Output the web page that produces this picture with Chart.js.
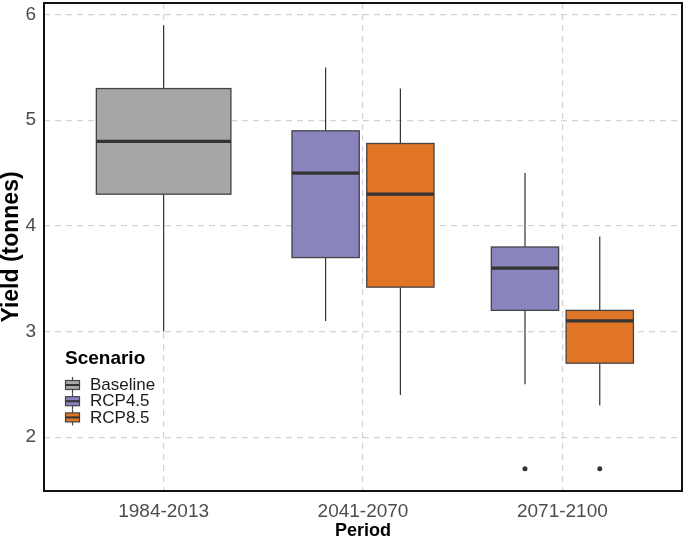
<!DOCTYPE html>
<html>
<head>
<meta charset="utf-8">
<script src="https://cdn.jsdelivr.net/npm/chart.js@4.4.0/dist/chart.umd.min.js"></script>
<style>
  html, body { margin: 0; padding: 0; background: #fff; }
  #wrap { width: 685px; height: 541px; }
</style>
</head>
<body>
<div id="wrap"><canvas id="myChart" width="685" height="541"></canvas></div>
<script>
const periods = ["1984-2013", "2041-2070", "2071-2100"];
const scenarios = ["Baseline", "RCP4.5", "RCP8.5"];
const colors = ["#A6A6A6", "#8983BE", "#E07526"];

// [lower whisker, q1, median, q3, upper whisker] per period
const baselineStats = [[3.0, 4.3, 4.8, 5.3, 5.9], null, null];
const rcp45Stats = [null, [3.1, 3.7, 4.5, 4.9, 5.5], [2.5, 3.2, 3.6, 3.8, 4.5]];
const rcp85Stats = [null, [2.4, 3.42, 4.3, 4.78, 5.3], [2.3, 2.7, 3.1, 3.2, 3.9]];

const baselineOutliers = [[], [], []];
const rcp45Outliers = [[], [], [1.7]];
const rcp85Outliers = [[], [], [1.7]];

const yTicks = [2, 3, 4, 5, 6];

const allStats = [baselineStats, rcp45Stats, rcp85Stats];
const allOutliers = [baselineOutliers, rcp45Outliers, rcp85Outliers];

const dodgeWidth = 0.75;

// ggplot-like dodge: only scenarios present in a period share the slot
function slot(s, p) {
  const present = allStats.map((st, k) => (st[p] ? k : -1)).filter((k) => k >= 0);
  const n = present.length;
  const k = present.indexOf(s);
  const w = dodgeWidth / n;
  return { center: p - dodgeWidth / 2 + w * (k + 0.5), width: w * 0.9 };
}

const datasets = scenarios.map((name, s) => ({
  label: name,
  data: allOutliers[s].flatMap((vals, p) =>
    vals.map((v) => ({ x: slot(s, p).center, y: v }))
  ),
  pointRadius: 2.5,
  pointHoverRadius: 2.5,
  pointBackgroundColor: "#333333",
  pointBorderWidth: 0,
}));

function line(ctx, x1, y1, x2, y2) {
  ctx.beginPath();
  ctx.moveTo(x1, y1);
  ctx.lineTo(x2, y2);
  ctx.stroke();
}

const boxPlugin = {
  id: "boxes",
  beforeDatasetsDraw(chart) {
    const { ctx, scales: { x, y } } = chart;
    ctx.save();
    allStats.forEach((stats, s) => {
      stats.forEach((st, p) => {
        if (!st) return;
        const { center, width } = slot(s, p);
        const xl = x.getPixelForValue(center - width / 2);
        const xr = x.getPixelForValue(center + width / 2);
        const xc = x.getPixelForValue(center);
        const [lo, q1, med, q3, hi] = st.map((v) => y.getPixelForValue(v));
        ctx.strokeStyle = "#333333";
        ctx.lineWidth = 1.2;
        line(ctx, xc, hi, xc, q3);
        line(ctx, xc, q1, xc, lo);
        ctx.fillStyle = colors[s];
        ctx.fillRect(xl, q3, xr - xl, q1 - q3);
        ctx.strokeStyle = "#444444";
        ctx.lineWidth = 1.3;
        ctx.strokeRect(xl, q3, xr - xl, q1 - q3);
        ctx.strokeStyle = "#333333";
        ctx.lineWidth = 3.2;
        line(ctx, xl, med, xr, med);
      });
    });
    ctx.restore();
  },
  afterDraw(chart) {
    const { ctx, chartArea: a } = chart;
    ctx.save();
    // panel border
    ctx.strokeStyle = "#111111";
    ctx.lineWidth = 2;
    ctx.strokeRect(a.left, a.top, a.right - a.left, a.bottom - a.top);

    // legend
    const lx = 65;
    ctx.fillStyle = "#000";
    ctx.textBaseline = "middle";
    ctx.textAlign = "left";
    ctx.font = "bold 19px 'Liberation Sans', Arial, sans-serif";
    ctx.fillText("Scenario", lx, 359);
    ctx.font = "17px 'Liberation Sans', Arial, sans-serif";
    scenarios.forEach((name, i) => {
      const cy = 385 + i * 16.2;
      ctx.strokeStyle = "#444444";
      ctx.lineWidth = 1.2;
      line(ctx, lx + 7.5, cy - 8, lx + 7.5, cy - 4.5);
      line(ctx, lx + 7.5, cy + 4.5, lx + 7.5, cy + 8);
      ctx.fillStyle = colors[i];
      ctx.fillRect(lx + 0.5, cy - 4.5, 14, 9);
      ctx.strokeRect(lx + 0.5, cy - 4.5, 14, 9);
      ctx.strokeStyle = "#333333";
      ctx.lineWidth = 2;
      line(ctx, lx + 0.5, cy, lx + 14.5, cy);
      ctx.fillStyle = "#1a1a1a";
      ctx.fillText(name, lx + 25, cy + 0.5);
    });
    ctx.restore();
  },
};

Chart.defaults.font.family = "'Liberation Sans', Arial, sans-serif";

const ctx = document.getElementById("myChart").getContext("2d");
new Chart(ctx, {
  type: "scatter",
  data: { datasets },
  plugins: [boxPlugin],
  options: {
    responsive: false,
    animation: false,
    layout: { padding: { top: 3, right: 3, left: 0, bottom: 0 } },
    plugins: {
      legend: { display: false },
      tooltip: { enabled: false },
    },
    scales: {
      x: {
        type: "linear",
        min: -0.6,
        max: 2.6,
        afterBuildTicks: (axis) => {
          axis.ticks = periods.map((p, i) => ({ value: i }));
        },
        afterFit: (scale) => {
          scale.height = 50;
          scale.paddingLeft = 0;
          scale.paddingRight = 0;
        },
        ticks: {
          callback: (v) => periods[v],
          font: { size: 19 },
          color: "#4D4D4D",
          padding: 9,
          maxRotation: 0,
        },
        grid: { color: "#D3D3D3", lineWidth: 1.2, drawTicks: false },
        border: { display: false, dash: [6, 5] },
        title: {
          display: true,
          text: "Period",
          color: "#000",
          font: { size: 18, weight: "bold", lineHeight: 1 },
          padding: { top: 0, bottom: 1 },
        },
      },
      y: {
        type: "linear",
        min: 1.49,
        max: 6.11,
        afterBuildTicks: (axis) => {
          axis.ticks = yTicks.map((v) => ({ value: v }));
        },
        afterFit: (scale) => {
          scale.width = 44;
          scale.paddingTop = 0;
          scale.paddingBottom = 0;
        },
        ticks: {
          font: { size: 19 },
          color: "#4D4D4D",
          padding: 8,
        },
        grid: { color: "#D3D3D3", lineWidth: 1.2, drawTicks: false },
        border: { display: false, dash: [6, 5] },
        title: {
          display: true,
          text: "Yield (tonnes)",
          color: "#000",
          font: { size: 23, weight: "bold", lineHeight: 1 },
          padding: { top: 0, bottom: 0 },
        },
      },
    },
  },
});
</script>
</body>
</html>
